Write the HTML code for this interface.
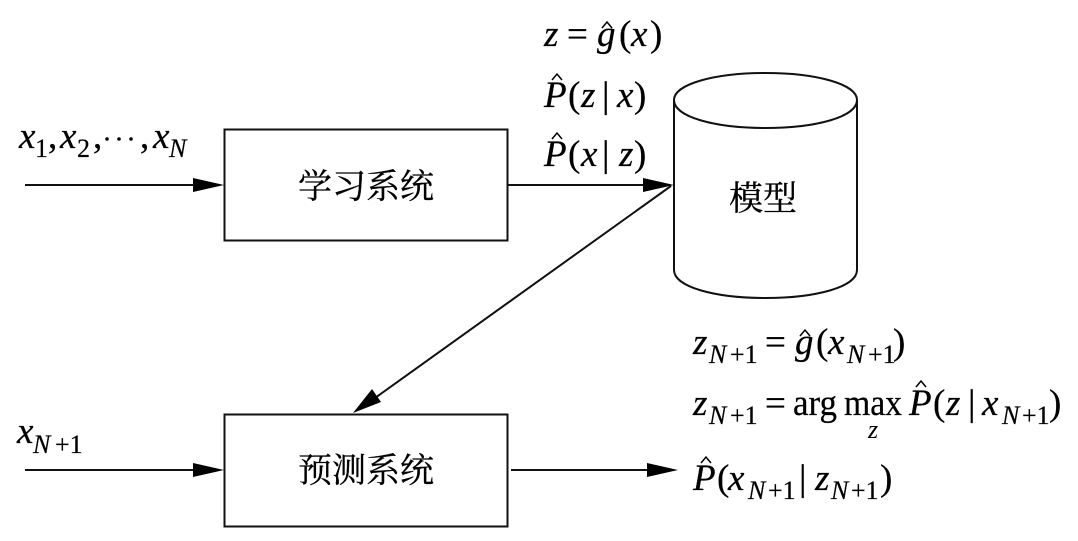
<!DOCTYPE html>
<html><head><meta charset="utf-8"><style>
html,body{margin:0;padding:0;background:#fff}
svg{display:block}
text{font-family:"Liberation Serif","Noto Serif CJK SC",serif;fill:#000}
.i{font-style:italic}
.m{font-size:37px;stroke:#000;stroke-width:.25}
.s{font-size:26px;stroke:#000;stroke-width:.2}
.z{font-size:26px}
.c{font-family:"Noto Serif CJK SC","Liberation Serif",serif;font-size:34px;stroke:#000;stroke-width:.3}
</style></head><body>
<svg width="1078" height="541" viewBox="0 0 1078 541" xmlns="http://www.w3.org/2000/svg">
<g fill="none" stroke="#111" stroke-width="2">
<rect x="224.500" y="129.500" width="283" height="111"/>
<rect x="224.500" y="414.500" width="283" height="112"/>
<line x1="25" y1="185" x2="200" y2="185"/>
<line x1="25" y1="470" x2="200" y2="470"/>
<line x1="508" y1="185" x2="650" y2="185"/>
<line x1="511" y1="470" x2="650" y2="470"/>
<line x1="671" y1="186" x2="375" y2="398"/>
<path d="M674 100C674 84 715 73 765.500 73C816 73 857 84 857 100C857 117 816 128 765.500 128C715 128 674 117 674 100Z"/>
<path d="M674 100V270C674 287 715 298 765.500 298C816 298 857 287 857 270V100"/>
</g>
<g fill="#000">
<path d="M193 178L224 185L193 192Z"/>
<path d="M193 463L224 470L193 477Z"/>
<path d="M643 178L674 185L643 192Z"/>
<path d="M647 463L678 470L647 477Z"/>
<path d="M353 413L372 389L381 402Z"/>
</g>
<g fill="none" stroke="#000" stroke-width="1.500">
<path d="M602 28L607 22L612 28"/>
<path d="M552 80L557 74L562 80"/>
<path d="M552 139L557 133L562 139"/>
<path d="M800 336L805 330L810 336"/>
<path d="M916 387L921 381L926 387"/>
<path d="M701 463L706 457L711 463"/>
</g>
<text class="c" x="298" y="198">学习系统</text>
<text class="c" x="298" y="482">预测系统</text>
<text class="c" x="729" y="210">模型</text>

<text class="m i" x="19" y="148">x</text><text class="s" x="35" y="157">1</text><text class="m" x="48" y="148">,</text>
<text class="m i" x="60" y="148">x</text><text class="s" x="77" y="157">2</text><text class="m" x="93" y="148">,</text>
<g fill="#000"><circle cx="107" cy="139" r="1.800"/><circle cx="119" cy="139" r="1.800"/><circle cx="131" cy="139" r="1.800"/></g>
<text class="m" x="140" y="148">,</text>
<text class="m i" x="153" y="148">x</text><text class="s i" x="169" y="157">N</text>

<text class="m i" x="17" y="443">x</text><text class="s i" x="33" y="453">N</text><text class="s" x="55" y="453">+1</text>

<text class="m i" x="544" y="46">z</text><text class="m" x="567" y="46">=</text><text class="m i" x="597" y="46">g</text><text class="m" x="619" y="46">(</text><text class="m i" x="631" y="46">x</text><text class="m" x="650" y="46">)</text>

<text class="m i" x="544" y="107">P</text><text class="m" x="568" y="107">(</text><text class="m i" x="581" y="107">z</text><text class="m" x="602" y="107">|</text><text class="m i" x="617" y="107">x</text><text class="m" x="634" y="107">)</text>
<text class="m i" x="544" y="166">P</text><text class="m" x="568" y="166">(</text><text class="m i" x="581" y="166">x</text><text class="m" x="602" y="166">|</text><text class="m i" x="619" y="166">z</text><text class="m" x="634" y="166">)</text>

<text class="m i" x="693" y="354">z</text><text class="s i" x="709" y="363">N</text><text class="s" x="730" y="363">+1</text><text class="m" x="765" y="354">=</text><text class="m i" x="795" y="354">g</text><text class="m" x="816" y="354">(</text><text class="m i" x="828" y="354">x</text><text class="s i" x="847" y="363">N</text><text class="s" x="868" y="363">+1</text><text class="m" x="893" y="354">)</text>

<text class="m i" x="693" y="415">z</text><text class="s i" x="709" y="424">N</text><text class="s" x="730" y="424">+1</text><text class="m" x="765" y="415">=</text><text class="m" x="793" y="415" textLength="44" lengthAdjust="spacingAndGlyphs">arg</text><text class="m" x="844" y="415" textLength="58" lengthAdjust="spacingAndGlyphs">max</text><text class="z i" x="868" y="438">z</text><text class="m i" x="909" y="415">P</text><text class="m" x="933" y="415">(</text><text class="m i" x="946" y="415">z</text><text class="m" x="968" y="415">|</text><text class="m i" x="982" y="415">x</text><text class="s i" x="1002" y="424">N</text><text class="s" x="1022" y="424">+1</text><text class="m" x="1049" y="415">)</text>

<text class="m i" x="693" y="490">P</text><text class="m" x="717" y="490">(</text><text class="m i" x="728" y="490">x</text><text class="s i" x="748" y="499">N</text><text class="s" x="768" y="499">+1</text><text class="m" x="799" y="490">|</text><text class="m i" x="815" y="490">z</text><text class="s i" x="831" y="499">N</text><text class="s" x="851" y="499">+1</text><text class="m" x="880" y="490">)</text>
</svg>
</body></html>
